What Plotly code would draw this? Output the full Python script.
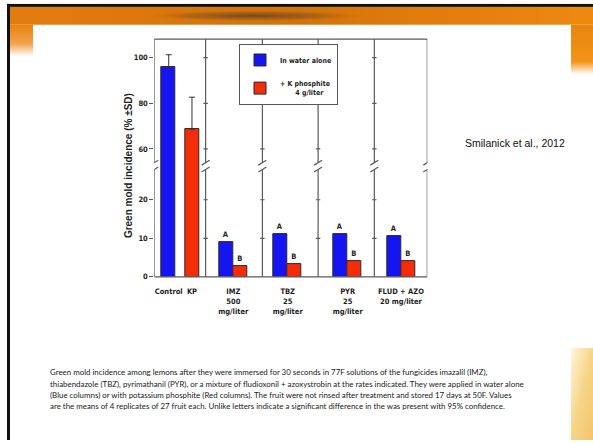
import base64
import plotly.graph_objects as go

W, H = 593, 445

# ---------------- data ----------------
control_labels = ["Control", "KP"]
control_values = [95.7, 68.7]
control_sd = [5.6, 14.0]
treatment_labels = ["IMZ<br>500<br>mg/liter", "TBZ<br>25<br>mg/liter",
                    "PYR<br>25<br>mg/liter", "FLUD + AZO<br>20 mg/liter"]
water_alone = [8.9, 11.0, 11.0, 10.5]
k_phosphite = [2.8, 3.3, 4.0, 4.0]
letters_water = ["A", "A", "A", "A"]
letters_kphos = ["B", "B", "B", "B"]
series_names = ["In water alone", "+ K phosphite<br>\u2007\u2007\u2007 4 g/liter"]
upper_ticks = [60, 80, 100]
lower_ticks = [0, 10, 20]
y_title = "Green mold incidence (% \u00b1SD)"
citation = "Smilanick et al., 2012"
caption_lines = [
    "Green mold incidence among lemons after they were immersed for 30 seconds in 77F solutions of the fungicides imazalil (IMZ),",
    "thiabendazole (TBZ), pyrimathanil (PYR), or a mixture of fludioxonil + azoxystrobin at the rates indicated. They were applied in water alone",
    "(Blue columns) or with potassium phosphite (Red columns). The fruit were not rinsed after treatment and stored 17 days at 50F. Values",
    "are the means of 4 replicates of 27 fruit each. Unlike letters indicate a significant difference in the was present with 95% confidence.",
]

# ---------------- layout / styling ----------------
BLUE = "#1515F2"
RED = "#F52C0A"
EDGE = "#2a2a2a"
FRAME = "#5a5a5a"
TXT = "#1e1e1e"
NARROW = "Liberation Sans Narrow, DejaVu Sans Condensed, Liberation Sans, Arial"

control_pos = [0.264, 0.690]
group_pos = [1.447, 2.443, 3.542, 4.518]
sep_pos = [0.0, 0.94, 1.98, 3.0, 4.03, 5.0]
bar_w = 0.256

PX_L, PX_R = 154.3, 427.3
PY_TOP, PY_BREAK, PY_BOT = 39.5, 168.0, 280.0
UPPER_RANGE = [60 - (PY_BREAK - 150.7) / 2.3, 100 + (58.3 - PY_TOP) / 2.3]
LOWER_RANGE = [0, (PY_BOT - PY_BREAK) / 3.9]
UNIT = (PX_R - PX_L) / 5.0


def xp(px):
    return px / W


def yp(py):
    return 1 - py / H


blue_x = [control_pos[0]] + [g - bar_w / 2 for g in group_pos]
red_x = [control_pos[1]] + [g + bar_w / 2 for g in group_pos]

fig = go.Figure()
bar_common = dict(width=bar_w, marker_line=dict(color=EDGE, width=1),
                  textposition="outside",
                  textfont=dict(size=7.5, color=TXT, family=NARROW, weight="bold"),
                  hoverinfo="skip")
fig.add_trace(go.Bar(x=blue_x, y=[control_values[0]] + water_alone,
                     text=[""] + letters_water, marker_color=BLUE,
                     name=series_names[0], legendgroup="w",
                     xaxis="x", yaxis="y", **bar_common))
fig.add_trace(go.Bar(x=red_x, y=[control_values[1]] + k_phosphite,
                     text=[""] + letters_kphos, marker_color=RED,
                     name=series_names[1], legendgroup="k",
                     xaxis="x", yaxis="y", **bar_common))
err_style = dict(type="data", symmetric=False, color="#333", thickness=1, width=3)
fig.add_trace(go.Bar(x=[control_pos[0]], y=[control_values[0]], width=bar_w,
                     marker_color=BLUE, marker_line=dict(color=EDGE, width=1),
                     error_y=dict(array=[control_sd[0]], arrayminus=[0], **err_style),
                     showlegend=False, xaxis="x", yaxis="y2", hoverinfo="skip"))
fig.add_trace(go.Bar(x=[control_pos[1]], y=[control_values[1]], width=bar_w,
                     marker_color=RED, marker_line=dict(color=EDGE, width=1),
                     error_y=dict(array=[control_sd[1]], arrayminus=[0], **err_style),
                     showlegend=False, xaxis="x", yaxis="y2", hoverinfo="skip"))

# ---- frame lines with axis breaks ----
shapes = []
line = dict(color=FRAME, width=1.2)
gap_top, gap_bot = 164.5, 171.5
for i, s in enumerate(sep_pos):
    shapes.append(dict(type="line", xref="x", yref="paper", x0=s, x1=s,
                       y0=yp(PY_TOP), y1=yp(gap_top), line=line))
    shapes.append(dict(type="line", xref="x", yref="paper", x0=s, x1=s,
                       y0=yp(gap_bot), y1=yp(PY_BOT), line=line))
    for yc in (gap_top, gap_bot):
        shapes.append(dict(type="line", xref="x", yref="paper",
                           x0=s - 4 / UNIT, x1=s + 4 / UNIT,
                           y0=yp(yc + 2.5), y1=yp(yc - 2.5), line=line))
    if 0 < i < len(sep_pos) - 1:
        for t in upper_ticks:
            shapes.append(dict(type="line", xref="x", yref="y2",
                               x0=s - 2.2 / UNIT, x1=s + 2.2 / UNIT, y0=t, y1=t, line=line))
        for t in lower_ticks[1:]:
            shapes.append(dict(type="line", xref="x", yref="y",
                               x0=s - 2.2 / UNIT, x1=s + 2.2 / UNIT, y0=t, y1=t, line=line))
shapes.append(dict(type="line", xref="x", yref="paper", x0=0, x1=5,
                   y0=yp(PY_TOP), y1=yp(PY_TOP), line=line))
shapes.append(dict(type="line", xref="x", yref="paper", x0=0, x1=5,
                   y0=yp(PY_BOT), y1=yp(PY_BOT), line=line))

# ---- slide decoration (background image) ----
svg = f'''<svg xmlns="http://www.w3.org/2000/svg" width="{W}" height="{H}" viewBox="0 0 {W} {H}">
<defs>
<linearGradient id="top" x1="0" y1="0" x2="1" y2="0">
<stop offset="0" stop-color="#E27C0E"/><stop offset="0.5" stop-color="#D47309"/><stop offset="1" stop-color="#EE8910"/></linearGradient>
<linearGradient id="left" x1="0" y1="0" x2="0" y2="1">
<stop offset="0" stop-color="#E98310"/><stop offset="0.6" stop-color="#F2A24E"/><stop offset="1" stop-color="#FFFFFF"/></linearGradient>
<linearGradient id="right" x1="0" y1="0" x2="0" y2="1">
<stop offset="0" stop-color="#E8850E"/><stop offset="0.75" stop-color="#F39418"/><stop offset="1" stop-color="#FFFFFF"/></linearGradient>
<radialGradient id="sw" cx="0.5" cy="0.5" r="0.5">
<stop offset="0" stop-color="#6A4220" stop-opacity="0.9"/><stop offset="0.6" stop-color="#8A5520" stop-opacity="0.5"/><stop offset="1" stop-color="#D47309" stop-opacity="0"/></radialGradient>
<linearGradient id="fl" x1="0" y1="0" x2="1" y2="1">
<stop offset="0" stop-color="#FFF6DC"/><stop offset="0.5" stop-color="#F6D588"/><stop offset="1" stop-color="#F2C46A"/></linearGradient>
</defs>
<rect x="7" y="4" width="586" height="3" fill="#111"/>
<rect x="7" y="4" width="3" height="441" fill="#111"/>
<rect x="10" y="7" width="583" height="18" fill="url(#top)"/>
<ellipse cx="255" cy="16" rx="115" ry="6" fill="url(#sw)"/>
<rect x="10" y="25" width="23" height="32" fill="url(#left)"/>
<rect x="571" y="25" width="22" height="50" fill="url(#right)"/>
<rect x="571" y="352" width="22" height="93" fill="url(#fl)"/>
</svg>'''
img_src = "data:image/svg+xml;base64," + base64.b64encode(svg.encode()).decode()

annotations = [
    dict(text=y_title, xref="paper", yref="paper", x=xp(128), y=yp(168),
         xanchor="center", yanchor="middle", textangle=-90, showarrow=False,
         font=dict(size=10, color=TXT, family="Liberation Sans, Arial", weight="bold")),
    dict(text=citation, xref="paper", yref="paper", x=xp(463), y=yp(145),
         xanchor="left", yanchor="middle", showarrow=False,
         font=dict(size=10.5, color="#111", family="Liberation Sans, Arial")),
]
for i, ln in enumerate(caption_lines):
    annotations.append(dict(text=ln, xref="paper", yref="paper",
                            x=xp(48), y=yp(376.7 + 11.3 * i),
                            xanchor="left", yanchor="middle", align="left",
                            showarrow=False,
                            font=dict(size=7.9, color="#1a1a1a", family="Lato, Open Sans")))

axis_font = dict(size=7.5, color=TXT, family=NARROW, weight="bold")
fig.update_layout(
    width=W, height=H, margin=dict(l=0, r=0, t=0, b=0),
    paper_bgcolor="white", plot_bgcolor="rgba(0,0,0,0)",
    barmode="overlay", bargap=0,
    xaxis=dict(domain=[xp(PX_L), xp(PX_R)], range=[0, 5], anchor="y",
               tickvals=control_pos + group_pos,
               ticktext=control_labels + treatment_labels,
               ticks="", showgrid=False, zeroline=False, showline=False,
               tickfont=axis_font, ticklabelstandoff=9),
    yaxis=dict(domain=[yp(PY_BOT), yp(PY_BREAK)], range=LOWER_RANGE,
               tickvals=lower_ticks, ticks="outside", ticklen=4, tickcolor=FRAME,
               tickwidth=1.2, showgrid=False, zeroline=False, showline=False,
               tickfont=axis_font),
    yaxis2=dict(domain=[yp(PY_BREAK), yp(PY_TOP)], range=UPPER_RANGE, anchor="x",
                tickvals=upper_ticks, ticks="outside", ticklen=4, tickcolor=FRAME,
                tickwidth=1.2, showgrid=False, zeroline=False, showline=False,
                tickfont=axis_font),
    legend=dict(x=xp(239), y=yp(45), xanchor="left", yanchor="top",
                bgcolor="white", bordercolor="#555", borderwidth=1,
                font=dict(size=7, color=TXT, family=NARROW, weight="bold"),
                tracegroupgap=8, itemwidth=30),
    shapes=shapes, annotations=annotations,
    images=[dict(source=img_src, xref="paper", yref="paper", x=0, y=1,
                 sizex=1, sizey=1, xanchor="left", yanchor="top",
                 sizing="stretch", layer="below")],
    showlegend=True,
)

fig.write_html("out.html", config={"displayModeBar": False},
               post_script="document.body.style.margin='0px';document.body.style.overflow='hidden';")
